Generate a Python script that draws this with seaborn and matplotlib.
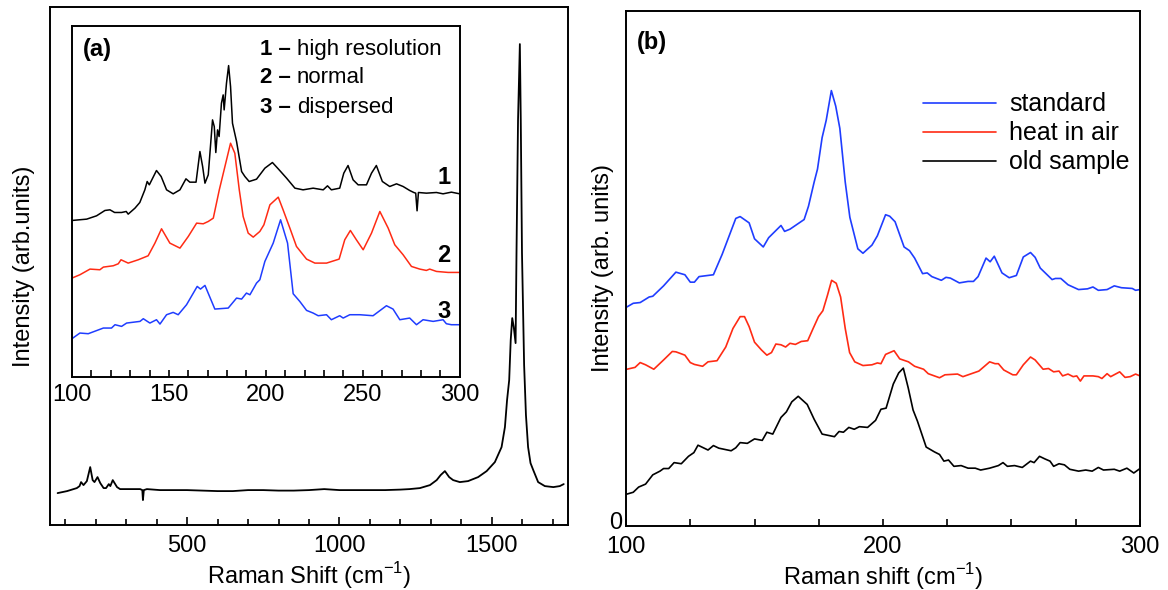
import matplotlib
matplotlib.use("Agg")
import matplotlib.pyplot as plt
import seaborn as sns
import pandas as pd
from matplotlib.ticker import MultipleLocator
from matplotlib.transforms import ScaledTranslation

# full spectrum (panel a, main axes)
main_shift = [75, 106, 138, 147, 152, 160, 171, 182, 190, 196, 206, 215, 226, 234, 243, 248,
              256, 270, 280, 313, 346, 353, 355, 358, 368, 411, 450, 500, 550, 600, 650, 700,
              750, 800, 850, 900, 950, 1000, 1050, 1100, 1150, 1200, 1230, 1264, 1297, 1319,
              1332, 1346, 1360, 1373, 1395, 1422, 1455, 1483, 1510, 1532, 1543, 1550, 1557,
              1562, 1567, 1572, 1578, 1581, 1586, 1592, 1595, 1599, 1606, 1612, 1619, 1627, 1636,
              1652, 1674, 1702, 1723, 1736]
main_int = [32, 34, 37, 39, 43, 40, 44, 58, 45, 43, 48, 42, 37, 37, 41, 39,
            45, 38, 36, 36, 36, 35, 25, 35, 36, 35, 35, 35, 34.5, 34, 34, 35,
            35, 34.5, 34.5, 35, 36, 35, 35, 35, 35, 35.5, 36, 37, 40, 45,
            50, 54, 48, 45, 43, 44, 48, 54, 63, 78, 98, 125, 145,
            185, 207, 198, 182, 272, 405, 481, 405, 272, 160, 110, 78, 62, 55,
            43, 39, 38, 39, 41]

# inset (panel a): 1 high resolution, 2 normal, 3 dispersed
hr_shift = [100, 107.6, 112.7, 117, 119.6, 122, 125.6, 128, 129, 132.5, 135, 137.6, 138.8, 139.9,
            143.6, 146, 148.8, 152.2, 155.7, 158.8, 160.8, 164, 166, 167.4, 168.6, 170.3, 172.5,
            173.4, 174.2, 175.1, 175.9, 177.1, 178, 178.5, 179.7, 180.8, 181.8, 182.8, 184.9,
            187.5, 189.2, 191.4, 195.2, 199.5, 203.4, 206.4, 210.7, 215, 219.2, 224.4, 229.6,
            231.8, 233.8, 238.1, 240.2, 242.4, 245, 247.6, 251.9, 254.5, 257, 260.1, 263.9,
            267.4, 270.8, 274.2, 276.3, 277.3, 278, 278.7, 282.8, 288, 291.4, 295.7, 300]
hr_int = [470, 474, 484, 500, 502, 494, 494, 497, 489, 507, 524, 562, 587, 577,
          620, 602, 562, 550, 562, 595, 585, 585, 677, 632, 582, 607, 772,
          752, 674, 742, 722, 822, 847, 802, 882, 935, 872, 762, 707,
          617, 602, 587, 594, 627, 644, 625, 597, 567, 562, 567, 562,
          574, 562, 567, 612, 635, 592, 577, 577, 612, 635, 587, 572,
          580, 572, 560, 554, 552, 499, 554, 552, 554, 550, 555, 550]

nor_shift = [100, 104.1, 109.3, 114.4, 116.2, 121.3, 123.9, 125.3, 129, 134.2, 139.3, 142.8, 146.2,
             150.5, 155.7, 160, 164.3, 167.7, 170.3, 172.9, 176, 178.9, 181.8, 184, 186.3, 188.3,
             190.9, 193.5, 196.9, 199, 202.1, 206.4, 208.9, 212.4, 215.8, 221, 225.3, 231.3,
             237.8, 240.7, 243.6, 246.7, 250.2, 254.5, 258.8, 263.1, 266.5, 270.8, 275.1, 279.4,
             282.8, 284.5, 288, 294, 300]
nor_int = [297, 307, 324, 322, 330, 334, 340, 352, 342, 352, 364, 402, 445,
           402, 387, 422, 462, 460, 467, 477, 562, 632, 702, 672, 562, 482,
           432, 420, 437, 457, 517, 540, 502, 447, 392, 354, 342, 342,
           354, 412, 440, 412, 382, 432, 497, 447, 397, 367, 332, 324,
           320, 324, 317, 314, 314]

dis_shift = [100, 104.1, 108.4, 116.2, 120.4, 122.2, 125.6, 128.2, 135.1, 136.8, 140.2, 143.6, 145.4,
             148.8, 152.2, 154.8, 159.1, 164.6, 166.3, 168.6, 173.7, 180.6, 184.9, 187.5, 190,
             191.8, 195.2, 196.9, 199.5, 203.8, 207.6, 211.2, 214.1, 217.5, 221, 224.4, 227,
             231.3, 233.8, 238.1, 239.9, 243.3, 248.5, 255.3, 262.2, 265.6, 269.1, 274.2, 277.7,
             281.1, 286.3, 291.4, 293.1, 295.7, 300]
dis_int = [115, 132, 130, 147, 147, 157, 152, 162, 167, 175, 162, 172, 159,
           187, 194, 187, 217, 272, 264, 275, 204, 207, 237, 234, 252,
           247, 282, 292, 347, 402, 472, 402, 250, 227, 200, 192, 184,
           187, 172, 184, 177, 187, 187, 184, 214, 204, 172, 177, 157,
           172, 167, 172, 160, 157, 157]

# panel b
std_shift = [100.3, 102.8, 105.5, 109, 110.4, 114.6, 119.4, 122.9, 125, 126.6, 128.4, 134, 137.4,
             142.7, 144.4, 147.9, 150, 153.4, 155.5, 160.3, 161.7, 163.8, 169.3, 171, 173.2,
             174.5, 176.3, 177.9, 179.9, 181.6, 183.2, 185.3, 187.1, 190.2, 192.2, 195.7, 197.8,
             201, 202.6, 204.7, 208.2, 210.3, 212.3, 215.4, 217.2, 219, 222.7, 224.5, 226.2,
             229.7, 233.1, 235.2, 237, 240.1, 241.7, 243.3, 246.3, 249.1, 251.9, 254.6, 257.4,
             259.2, 261.2, 265.8, 267.1, 269.2, 272, 276.1, 279.6, 281.7, 283.8, 287.2, 290,
             292.8, 297, 298.3, 300]
std_int = [591, 601, 603, 618, 620, 648, 685, 678, 658, 658, 673, 678, 733,
           830, 835, 818, 775, 753, 778, 811, 795, 801, 827, 863, 928,
           963, 1048, 1095, 1175, 1133, 1073, 928, 833, 748, 736, 758, 783,
           840, 836, 821, 753, 743, 723, 681, 683, 673, 663, 671, 669,
           656, 660, 660, 673, 723, 713, 728, 683, 670, 676, 726, 738,
           725, 696, 665, 668, 668, 651, 638, 640, 645, 636, 638, 648,
           643, 641, 636, 638]

air_shift = [100.3, 103.5, 105.5, 107.6, 110.8, 114.6, 118, 119.4, 122.9, 125, 126.6, 129.8, 131.9,
             135.4, 138.8, 141.6, 144.4, 146.1, 147.9, 150, 152.7, 154.8, 156.6, 158.3, 160.3,
             162.1, 163.8, 165.9, 168.2, 170.7, 172.8, 174.9, 176.6, 178.4, 180, 181.8, 183.5,
             185.3, 187, 189, 192.2, 195.7, 197.8, 199.2, 201, 204.3, 206.5, 209.9, 212.3,
             215.8, 217.6, 222, 224.1, 229, 231.1, 237.3, 241.5, 243.6, 244.9, 247, 250.5,
             251.9, 254.6, 257.4, 259.2, 262.3, 264.4, 266.4, 268.5, 269.9, 272, 274, 275.4,
             276.8, 278.2, 281.7, 283.8, 285.2, 287.2, 288.6, 292.1, 294.2, 296.2, 298.3, 300]
air_int = [423, 428, 441, 435, 423, 448, 471, 470, 461, 441, 436, 431, 443,
           446, 483, 533, 565, 565, 538, 496, 475, 461, 468, 491, 489,
           483, 493, 490, 498, 500, 533, 565, 581, 623, 663, 655, 618,
           533, 468, 443, 433, 435, 440, 438, 463, 473, 451, 443, 431,
           423, 411, 400, 408, 410, 403, 418, 443, 438, 438, 421, 408,
           408, 435, 456, 448, 423, 425, 416, 418, 405, 410, 403, 405,
           391, 405, 405, 403, 398, 411, 403, 416, 401, 403, 410, 405]

old_shift = [100.3, 102.8, 104.9, 107.6, 110.4, 113.2, 114.6, 116.6, 118.7, 121.5, 124.3, 126.4, 128,
             131.9, 134, 136.1, 140.9, 142.7, 144.4, 147.2, 150, 153, 154.8, 157.1, 160.3,
             162.4, 164.5, 167, 170.5, 173.2, 176.3, 181.1, 182.9, 184.6, 186.7, 188.8, 190.8,
             194, 197.1, 199.2, 201.2, 204, 206.1, 207.9, 209.8, 211.7, 213.4, 216.8, 220,
             222, 223.7, 225.5, 227.6, 230.4, 233.1, 235.9, 238, 241.5, 244.9, 246.7, 248.4,
             251.2, 254.2, 257.4, 258.8, 260.9, 263, 265, 266.4, 268.5, 270.6, 272.7, 276.1,
             278.9, 281.4, 283.8, 285.8, 290, 292.1, 294.9, 297.6, 300]
old_int = [86, 91, 105, 113, 138, 148, 155, 155, 171, 168, 188, 198, 218,
           205, 217, 210, 203, 211, 225, 223, 235, 231, 253, 248, 293,
           308, 335, 350, 328, 288, 248, 241, 255, 253, 266, 261, 268,
           266, 285, 315, 318, 383, 413, 426, 373, 313, 283, 213, 200,
           193, 175, 178, 161, 163, 156, 156, 151, 156, 163, 171, 161,
           163, 158, 175, 171, 188, 181, 175, 161, 168, 165, 153, 148,
           151, 148, 158, 151, 153, 148, 156, 143, 155]

BLUE = '#1f3dff'
RED = '#ff2b14'
FS = 17

sns.set_style("ticks")
plt.rcParams['font.family'] = ['Liberation Sans', 'DejaVu Sans']
plt.rcParams['axes.linewidth'] = 1.4
plt.rcParams['xtick.direction'] = 'in'
plt.rcParams['ytick.direction'] = 'in'
plt.rcParams['xtick.color'] = 'black'
plt.rcParams['ytick.color'] = 'black'
plt.rcParams['axes.edgecolor'] = 'black'
plt.rcParams['axes.labelcolor'] = 'black'
plt.rcParams['text.color'] = 'black'


def draw(ax, x, y, color, label=None, lw=1.2):
    df = pd.DataFrame({'shift': x, 'intensity': y})
    sns.lineplot(data=df, x='shift', y='intensity', ax=ax, color=color, lw=lw,
                 sort=False, estimator=None, label=label, legend=False)


fig = plt.figure(figsize=(11.68, 5.90), dpi=100)

# ---- panel (a) main ----
ax1 = fig.add_axes([0.0428, 0.110, 0.4435, 0.878])
draw(ax1, main_shift, main_int, 'black', lw=1.3)
ax1.set_xlim(50, 1750)
ax1.set_ylim(0, 518)
ax1.set_yticks([])
ax1.xaxis.set_major_locator(MultipleLocator(500))
ax1.xaxis.set_minor_locator(MultipleLocator(100))
ax1.tick_params(axis='x', which='major', length=6, width=1.2, labelsize=FS, pad=7)
ax1.tick_params(axis='x', which='minor', length=4, width=1.2)
ax1.set_xlabel('Raman Shift (cm$^{\\mathregular{-1}}$)', fontsize=FS, labelpad=2.5)
ax1.set_ylabel('Intensity (arb.units)', fontsize=FS, labelpad=10.5)

# ---- inset ----
ins = fig.add_axes([0.0616, 0.361, 0.332, 0.595])
draw(ins, hr_shift, hr_int, 'black', lw=1.1)
draw(ins, nor_shift, nor_int, RED, lw=1.1)
draw(ins, dis_shift, dis_int, BLUE, lw=1.1)
ins.set_xlim(100, 300)
ins.set_ylim(0, 1054)
ins.set_yticks([])
ins.set_xlabel('')
ins.set_ylabel('')
ins.xaxis.set_major_locator(MultipleLocator(50))
ins.xaxis.set_minor_locator(MultipleLocator(10))
ins.tick_params(axis='x', which='major', length=5, width=1.2, labelsize=FS, pad=5)
ins.tick_params(axis='x', which='minor', length=5, width=1.2)
for lab, yv in [('1', 600), ('2', 364), ('3', 197)]:
    ins.text(292, yv, lab, fontsize=FS, fontweight='bold', ha='center', va='center')
ins.text(0.028, 0.932, '(a)', transform=ins.transAxes, fontsize=FS, fontweight='bold',
         va='center', ha='left')
for i, (num, name) in enumerate([('1', 'high resolution'), ('2', 'normal'), ('3', 'dispersed')]):
    yy = [0.932, 0.852, 0.769][i]
    ins.text(0.485, yy, num + ' \u2013', transform=ins.transAxes, fontsize=16,
             fontweight='bold', va='center', ha='left')
    ins.text(0.58, yy, name, transform=ins.transAxes, fontsize=16, va='center', ha='left')

# ---- panel (b) ----
ax2 = fig.add_axes([0.536, 0.1085, 0.440, 0.873])
draw(ax2, std_shift, std_int, BLUE, label='standard')
draw(ax2, air_shift, air_int, RED, label='heat in air')
draw(ax2, old_shift, old_int, 'black', label='old sample')
ax2.set_xlim(100, 300)
ax2.set_ylim(0, 1390)
ax2.set_yticks([0])
ax2.tick_params(axis='y', length=0, labelsize=FS, pad=3)
# lift the lone "0" a little so it sits just above "100"
for lbl in ax2.get_yticklabels():
    lbl.set_transform(lbl.get_transform() + ScaledTranslation(0, 4 / 72, fig.dpi_scale_trans))
ax2.xaxis.set_major_locator(MultipleLocator(100))
ax2.xaxis.set_minor_locator(MultipleLocator(25))
ax2.tick_params(axis='x', which='major', length=5, width=1.2, labelsize=FS, pad=7)
ax2.tick_params(axis='x', which='minor', length=5, width=1.2)
ax2.set_xlabel('Raman shift (cm$^{\\mathregular{-1}}$)', fontsize=FS, labelpad=2.5)
ax2.set_ylabel('Intensity (arb. units)', fontsize=FS, labelpad=-4)
ax2.text(0.021, 0.938, '(b)', transform=ax2.transAxes, fontsize=FS, fontweight='bold',
         va='center', ha='left')
ax2.legend(loc='upper left', bbox_to_anchor=(0.578, 0.842), frameon=False, fontsize=18,
           handlelength=2.9, handletextpad=0.55, labelspacing=0.2, borderpad=0,
           borderaxespad=0)

fig.savefig('out.png', dpi=100)
